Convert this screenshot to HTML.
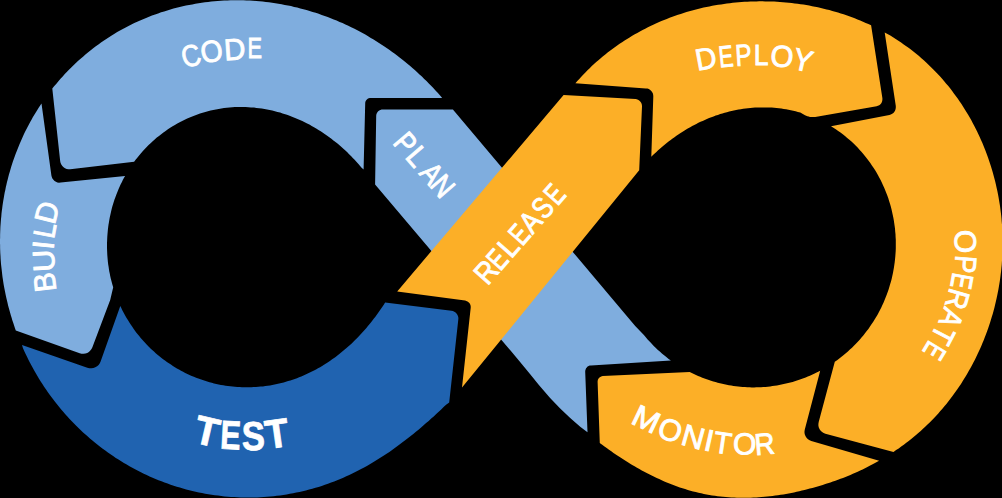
<!DOCTYPE html>
<html><head><meta charset="utf-8"><title>DevOps loop</title>
<style>
html,body{margin:0;padding:0;background:#000;}
body{width:1002px;height:498px;overflow:hidden;font-family:"Liberation Sans",sans-serif;}
svg{display:block;}
text{font-family:"Liberation Sans",sans-serif;fill:#fff;}
</style></head><body>
<svg width="1002" height="498" viewBox="0 0 1002 498">
<rect width="1002" height="498" fill="#000"/>
<path d="M376.2 116.0 L376.3 114.7 L376.7 113.5 L377.4 112.3 L378.2 111.3 L379.2 110.5 L380.4 109.9 L381.6 109.5 L382.9 109.4 L452.9 109.4 L572.8 251.9 L635.2 326.1 L643.9 335.0 L645.8 337.2 L647.6 339.4 L649.6 341.6 L651.5 343.6 L653.5 345.7 L655.6 347.7 L657.6 349.7 L659.8 351.6 L661.9 353.5 L664.1 355.3 L666.3 357.1 L668.6 358.9 L670.9 360.6 L590.9 365.4 L589.7 365.6 L588.6 366.0 L587.6 366.6 L586.8 367.4 L586.1 368.3 L585.6 369.4 L585.3 370.5 L585.2 371.7 L587.5 432.2 L580.2 426.7 L570.2 418.1 L560.2 408.6 L550.1 398.1 L538.9 385.0 L530.2 374.2 L520.1 362.1 L510.1 350.1 L501.5 340.0 L431.4 251.1 L375.1 184.6Z" fill="#7fadde"/>
<path d="M52.3 88.6 L54.3 86.1 L56.4 83.7 L58.4 81.2 L60.5 78.8 L62.7 76.4 L64.8 74.1 L67.0 71.8 L69.2 69.5 L71.5 67.2 L73.8 65.0 L76.1 62.8 L78.5 60.6 L80.9 58.5 L83.3 56.4 L85.7 54.3 L88.2 52.2 L90.7 50.2 L93.2 48.3 L95.8 46.3 L98.4 44.4 L101.0 42.6 L103.6 40.7 L106.3 38.9 L109.0 37.2 L111.7 35.5 L114.5 33.8 L117.2 32.1 L120.0 30.5 L122.8 29.0 L125.7 27.4 L128.5 26.0 L131.4 24.5 L134.3 23.1 L137.2 21.8 L140.1 20.4 L143.1 19.2 L146.1 17.9 L149.0 16.7 L152.0 15.6 L155.1 14.4 L158.1 13.4 L161.1 12.3 L164.2 11.4 L167.3 10.4 L170.4 9.5 L173.5 8.6 L176.6 7.8 L179.7 7.0 L182.8 6.3 L186.0 5.6 L189.1 5.0 L192.3 4.4 L195.4 3.8 L198.6 3.3 L201.8 2.8 L205.0 2.3 L208.2 1.9 L211.3 1.6 L214.5 1.3 L217.7 1.0 L220.9 0.8 L224.2 0.6 L227.4 0.4 L230.6 0.3 L233.8 0.3 L237.0 0.3 L240.2 0.3 L243.4 0.3 L246.6 0.5 L249.8 0.6 L253.0 0.8 L256.2 1.0 L259.4 1.3 L262.6 1.6 L265.8 1.9 L268.9 2.3 L272.1 2.8 L275.3 3.2 L278.4 3.7 L281.6 4.3 L284.7 4.9 L287.9 5.5 L291.0 6.1 L294.1 6.9 L297.2 7.6 L300.3 8.4 L303.4 9.2 L306.5 10.0 L309.6 10.9 L312.6 11.9 L315.7 12.8 L318.7 13.8 L321.7 14.9 L324.7 15.9 L327.7 17.1 L330.7 18.2 L333.7 19.4 L336.6 20.6 L339.6 21.9 L342.5 23.1 L345.4 24.5 L348.3 25.8 L351.2 27.2 L354.0 28.6 L356.9 30.1 L359.7 31.6 L362.5 33.1 L365.3 34.6 L368.1 36.2 L370.8 37.9 L373.6 39.5 L376.3 41.2 L379.0 42.9 L381.7 44.7 L384.4 46.4 L387.0 48.2 L389.6 50.1 L392.2 51.9 L394.8 53.8 L397.4 55.8 L399.9 57.7 L402.5 59.7 L405.0 61.7 L407.4 63.8 L409.9 65.8 L412.4 67.9 L414.8 70.1 L417.2 72.2 L419.5 74.4 L421.9 76.6 L424.2 78.9 L426.5 81.1 L428.8 83.4 L431.1 85.7 L433.3 88.1 L435.5 90.4 L437.7 92.8 L439.9 95.3 L442.0 97.7 L441.8 97.9 L370.9 97.9 L369.8 98.0 L368.7 98.3 L367.7 98.8 L366.9 99.5 L366.2 100.3 L365.6 101.3 L365.3 102.3 L365.2 103.4 L363.6 169.6 L361.6 167.7 L359.9 165.7 L358.2 163.7 L356.4 161.7 L354.6 159.8 L352.8 157.9 L351.0 156.0 L349.1 154.2 L347.3 152.3 L345.4 150.5 L343.4 148.8 L341.5 147.0 L339.5 145.3 L337.5 143.6 L335.5 142.0 L333.4 140.4 L331.4 138.8 L329.3 137.2 L327.2 135.7 L325.0 134.2 L322.9 132.7 L320.7 131.3 L318.5 129.9 L316.2 128.5 L314.0 127.2 L311.7 125.9 L309.4 124.6 L307.1 123.4 L304.7 122.2 L302.3 121.1 L299.9 120.0 L297.5 118.9 L295.1 117.9 L292.6 116.9 L290.2 116.0 L287.7 115.1 L285.2 114.2 L282.6 113.4 L280.1 112.6 L277.5 111.9 L274.9 111.2 L272.3 110.6 L269.7 110.0 L267.1 109.5 L264.5 109.0 L261.8 108.6 L259.2 108.2 L256.5 107.9 L253.8 107.6 L251.1 107.4 L248.4 107.2 L245.7 107.1 L243.0 107.0 L240.3 107.0 L237.6 107.0 L234.9 107.1 L232.2 107.3 L229.4 107.5 L226.7 107.8 L224.0 108.1 L221.3 108.5 L218.6 108.9 L215.9 109.4 L213.2 109.9 L210.6 110.6 L207.9 111.2 L205.3 111.9 L202.6 112.7 L200.0 113.6 L197.4 114.5 L194.8 115.4 L192.2 116.4 L189.7 117.5 L187.2 118.6 L184.7 119.7 L182.2 121.0 L179.7 122.2 L177.3 123.6 L174.9 124.9 L172.6 126.3 L170.2 127.8 L167.9 129.3 L165.6 130.9 L163.4 132.5 L161.2 134.2 L159.0 135.9 L156.8 137.6 L154.7 139.4 L152.7 141.3 L150.6 143.2 L148.6 145.1 L146.7 147.0 L144.8 149.0 L142.9 151.1 L141.0 153.2 L139.3 155.3 L137.5 157.4 L135.8 159.6 L134.1 161.8 L70.2 169.2 L68.4 169.2 L66.7 168.9 L65.0 168.2 L63.6 167.3 L62.3 166.0 L61.3 164.6 L60.6 162.9 L60.2 161.2Z" fill="#7fadde"/>
<path d="M41.5 103.5 L40.0 105.8 L38.5 108.1 L37.0 110.4 L35.6 112.7 L34.2 115.0 L32.8 117.3 L31.5 119.7 L30.2 122.0 L28.9 124.4 L27.7 126.8 L26.4 129.2 L25.2 131.6 L24.0 134.1 L22.9 136.5 L21.8 139.0 L20.7 141.4 L19.6 143.9 L18.6 146.4 L17.6 148.9 L16.6 151.4 L15.6 153.9 L14.7 156.4 L13.8 159.0 L12.9 161.5 L12.1 164.1 L11.3 166.6 L10.5 169.2 L9.8 171.7 L9.0 174.3 L8.3 176.9 L7.7 179.5 L7.0 182.1 L6.4 184.7 L5.8 187.3 L5.3 189.9 L4.7 192.5 L4.2 195.2 L3.8 197.8 L3.3 200.4 L2.9 203.0 L2.5 205.7 L2.2 208.3 L1.8 211.0 L1.5 213.6 L1.3 216.3 L1.0 218.9 L0.8 221.5 L0.6 224.2 L0.4 226.8 L0.3 229.5 L0.2 232.1 L0.1 234.8 L0.1 237.4 L0.0 240.1 L0.0 242.7 L0.1 245.4 L0.1 248.0 L0.2 250.7 L0.3 253.3 L0.5 256.0 L0.6 258.6 L0.8 261.2 L1.0 263.9 L1.3 266.5 L1.6 269.1 L1.9 271.7 L2.2 274.4 L2.5 277.0 L2.9 279.6 L3.3 282.2 L3.7 284.8 L4.2 287.4 L4.7 290.0 L5.2 292.6 L5.7 295.1 L6.3 297.7 L6.9 300.3 L7.5 302.8 L8.1 305.4 L8.8 307.9 L9.5 310.5 L10.2 313.0 L10.9 315.5 L11.7 318.0 L12.4 320.6 L13.3 323.1 L14.1 325.6 L14.9 328.0 L15.8 330.5 L79.7 353.2 L81.5 353.7 L83.5 353.8 L85.4 353.5 L87.2 352.9 L88.9 351.9 L90.3 350.6 L91.5 349.1 L92.4 347.3 L110.2 300.0 L113.2 287.3 L112.5 285.0 L111.9 282.8 L111.3 280.5 L110.7 278.2 L110.2 276.0 L109.8 273.7 L109.3 271.4 L108.9 269.1 L108.6 266.8 L108.2 264.4 L107.9 262.1 L107.7 259.8 L107.5 257.5 L107.3 255.1 L107.2 252.8 L107.1 250.4 L107.0 248.1 L107.0 245.8 L107.0 243.4 L107.1 241.1 L107.2 238.7 L107.3 236.4 L107.5 234.0 L107.7 231.7 L107.9 229.4 L108.2 227.0 L108.5 224.7 L108.9 222.4 L109.3 220.1 L109.7 217.8 L110.2 215.5 L110.7 213.2 L111.2 210.9 L111.8 208.6 L112.4 206.3 L113.1 204.1 L113.8 201.8 L114.5 199.6 L115.3 197.4 L116.1 195.2 L117.0 193.0 L117.9 190.8 L118.8 188.6 L119.7 186.5 L120.7 184.3 L121.8 182.2 L122.8 180.1 L123.9 178.0 L125.1 175.9 L60.7 182.6 L59.0 182.7 L57.4 182.4 L55.9 181.8 L54.6 180.9 L53.4 179.8 L52.4 178.4 L51.8 176.9 L51.4 175.4Z" fill="#7fadde"/>
<path d="M22.0 345.0 L87.3 367.8 L89.3 368.2 L91.4 368.3 L93.4 368.0 L95.3 367.3 L97.1 366.2 L98.6 364.9 L99.8 363.2 L100.7 361.3 L120.3 305.9 L121.3 308.1 L122.3 310.2 L123.4 312.3 L124.6 314.4 L125.7 316.5 L126.9 318.6 L128.2 320.6 L129.4 322.6 L130.7 324.6 L132.1 326.6 L133.4 328.6 L134.8 330.5 L136.2 332.4 L137.7 334.3 L139.2 336.1 L140.7 338.0 L142.3 339.8 L143.9 341.5 L145.5 343.3 L147.1 345.0 L148.8 346.7 L150.5 348.4 L152.2 350.0 L154.0 351.6 L155.7 353.2 L157.5 354.7 L159.4 356.2 L161.2 357.7 L163.1 359.2 L165.0 360.6 L166.9 362.0 L168.9 363.3 L170.9 364.6 L172.9 365.9 L174.9 367.2 L176.9 368.4 L179.0 369.6 L181.0 370.7 L183.1 371.8 L185.2 372.9 L187.4 373.9 L189.5 374.9 L191.7 375.9 L193.9 376.8 L196.1 377.7 L198.3 378.5 L200.5 379.3 L202.7 380.1 L205.0 380.8 L207.2 381.5 L209.5 382.2 L211.8 382.8 L214.0 383.4 L216.3 383.9 L218.6 384.4 L221.0 384.9 L223.3 385.3 L225.6 385.7 L227.9 386.0 L230.3 386.3 L232.6 386.6 L234.9 386.8 L237.3 387.0 L239.6 387.1 L242.0 387.2 L244.3 387.3 L246.7 387.3 L249.0 387.3 L251.4 387.2 L253.7 387.1 L256.0 387.0 L258.4 386.8 L260.7 386.6 L263.0 386.4 L265.4 386.1 L267.7 385.8 L270.0 385.4 L272.3 385.0 L274.6 384.6 L276.9 384.1 L279.1 383.6 L281.4 383.0 L283.7 382.4 L285.9 381.8 L288.1 381.1 L290.4 380.5 L292.6 379.7 L294.8 379.0 L297.0 378.2 L299.1 377.3 L301.3 376.5 L303.5 375.5 L305.6 374.6 L307.7 373.6 L309.8 372.6 L311.9 371.6 L314.0 370.5 L316.0 369.5 L318.0 368.3 L320.1 367.2 L322.1 366.0 L324.0 364.8 L326.0 363.5 L328.0 362.3 L329.9 361.0 L331.8 359.6 L333.7 358.3 L335.6 356.9 L337.4 355.5 L339.3 354.1 L341.1 352.6 L342.9 351.1 L344.7 349.6 L346.5 348.1 L348.2 346.6 L350.0 345.0 L351.7 343.4 L353.4 341.8 L355.1 340.1 L356.7 338.4 L358.4 336.8 L360.0 335.0 L361.6 333.3 L363.2 331.6 L364.8 329.8 L366.4 328.0 L367.9 326.1 L369.4 324.3 L370.9 322.4 L372.4 320.5 L373.9 318.6 L375.4 316.7 L376.8 314.8 L378.2 312.8 L379.6 310.8 L381.0 308.8 L382.4 306.7 L383.8 304.7 L385.1 302.6 L451.4 310.7 L452.9 311.1 L454.3 311.7 L455.6 312.6 L456.7 313.7 L457.5 315.0 L458.1 316.5 L458.4 318.0 L458.3 319.5 L449.2 402.6 L446.1 404.7 L443.6 407.1 L441.2 409.4 L438.7 411.8 L436.2 414.1 L433.7 416.4 L431.2 418.6 L428.7 420.9 L426.1 423.1 L423.6 425.3 L421.1 427.5 L418.5 429.7 L415.9 431.8 L413.3 433.9 L410.7 436.0 L408.1 438.1 L405.5 440.1 L402.8 442.1 L400.2 444.1 L397.5 446.1 L394.8 448.1 L392.1 450.0 L389.4 451.9 L386.6 453.7 L383.9 455.5 L381.1 457.3 L378.3 459.1 L375.5 460.8 L372.7 462.6 L369.8 464.2 L366.9 465.9 L364.1 467.5 L361.1 469.0 L358.2 470.6 L355.3 472.1 L352.3 473.5 L349.3 474.9 L346.3 476.3 L343.3 477.7 L340.3 479.0 L337.2 480.2 L334.2 481.4 L331.1 482.6 L328.0 483.7 L324.9 484.8 L321.7 485.9 L318.6 486.9 L315.5 487.8 L312.3 488.7 L309.1 489.6 L305.9 490.4 L302.7 491.2 L299.5 491.9 L296.3 492.6 L293.1 493.3 L289.8 493.8 L286.6 494.4 L283.3 494.9 L280.1 495.4 L276.8 495.8 L273.6 496.2 L270.3 496.5 L267.0 496.8 L263.8 497.0 L260.5 497.2 L257.2 497.4 L253.9 497.5 L250.7 497.5 L247.4 497.5 L244.1 497.5 L240.8 497.4 L237.6 497.3 L234.3 497.1 L231.1 496.9 L227.8 496.7 L224.5 496.4 L221.3 496.0 L218.1 495.6 L214.8 495.2 L211.6 494.7 L208.4 494.2 L205.2 493.7 L202.0 493.0 L198.8 492.4 L195.6 491.7 L192.4 491.0 L189.3 490.2 L186.2 489.4 L183.0 488.5 L179.9 487.6 L176.8 486.7 L173.7 485.7 L170.6 484.7 L167.6 483.6 L164.5 482.5 L161.5 481.3 L158.5 480.2 L155.5 478.9 L152.6 477.7 L149.6 476.4 L146.7 475.0 L143.8 473.7 L140.9 472.2 L138.0 470.8 L135.1 469.3 L132.3 467.8 L129.5 466.2 L126.7 464.6 L123.9 463.0 L121.2 461.3 L118.5 459.6 L115.8 457.9 L113.1 456.1 L110.5 454.3 L107.9 452.5 L105.3 450.6 L102.7 448.7 L100.1 446.8 L97.6 444.8 L95.1 442.8 L92.7 440.8 L90.2 438.7 L87.8 436.6 L85.5 434.5 L83.1 432.4 L80.8 430.2 L78.5 428.0 L76.2 425.8 L74.0 423.5 L71.8 421.2 L69.6 418.9 L67.4 416.6 L65.3 414.2 L63.2 411.8 L61.2 409.4 L59.2 407.0 L57.2 404.5 L55.2 402.0 L53.3 399.5 L51.4 397.0 L49.5 394.4 L47.7 391.9 L45.9 389.3 L44.1 386.7 L42.4 384.0 L40.7 381.4 L39.0 378.7 L37.4 376.0 L35.8 373.3 L34.2 370.5 L32.7 367.8 L31.2 365.0 L29.7 362.2 L28.3 359.4 L26.9 356.6 L25.5 353.8 L24.2 350.9 L22.9 348.0Z" fill="#2063b0"/>
<path d="M397.2 291.4 L563.6 95.1 L635.4 99.1 L636.7 99.3 L638.0 99.8 L639.2 100.5 L640.2 101.4 L641.0 102.5 L641.6 103.7 L641.9 105.0 L642.0 106.4 L639.2 170.3 L462.0 387.6 L470.7 307.8 L470.7 306.5 L470.5 305.3 L470.0 304.1 L469.4 303.1 L468.5 302.2 L467.5 301.5 L466.3 300.9 L465.1 300.6Z" fill="#fcaf27"/>
<path d="M575.4 83.3 L577.3 81.1 L579.3 78.9 L581.3 76.7 L583.4 74.5 L585.4 72.4 L587.5 70.3 L589.7 68.2 L591.8 66.1 L594.0 64.1 L596.2 62.1 L598.4 60.2 L600.7 58.2 L603.0 56.3 L605.3 54.4 L607.6 52.6 L610.0 50.8 L612.4 49.0 L614.8 47.2 L617.2 45.5 L619.6 43.8 L622.1 42.2 L624.6 40.5 L627.1 38.9 L629.6 37.4 L632.2 35.8 L634.8 34.3 L637.3 32.9 L639.9 31.4 L642.6 30.0 L645.2 28.7 L647.9 27.3 L650.5 26.0 L653.2 24.8 L655.9 23.5 L658.6 22.3 L661.4 21.1 L664.1 20.0 L666.8 18.9 L669.6 17.8 L672.4 16.8 L675.2 15.8 L678.0 14.8 L680.8 13.9 L683.6 13.0 L686.5 12.1 L689.3 11.3 L692.2 10.5 L695.0 9.7 L697.9 9.0 L700.8 8.3 L703.6 7.6 L706.5 7.0 L709.4 6.4 L712.3 5.8 L715.2 5.3 L718.2 4.8 L721.1 4.4 L724.0 3.9 L726.9 3.5 L729.9 3.2 L732.8 2.8 L735.7 2.5 L738.7 2.3 L741.6 2.0 L744.6 1.8 L747.5 1.7 L750.5 1.5 L753.4 1.4 L756.4 1.4 L759.3 1.3 L762.3 1.3 L765.2 1.4 L768.2 1.4 L771.1 1.5 L774.1 1.6 L777.0 1.8 L779.9 2.0 L782.9 2.2 L785.8 2.5 L788.8 2.7 L791.7 3.1 L794.6 3.4 L797.6 3.8 L800.5 4.2 L803.4 4.6 L806.3 5.1 L809.2 5.6 L812.1 6.2 L815.0 6.7 L817.9 7.3 L820.8 8.0 L823.7 8.7 L826.6 9.4 L829.4 10.1 L832.3 10.9 L835.1 11.7 L838.0 12.5 L840.8 13.4 L843.6 14.3 L846.4 15.3 L849.2 16.3 L852.0 17.3 L854.7 18.3 L857.5 19.4 L860.2 20.5 L863.0 21.7 L865.7 22.9 L868.4 24.1 L871.1 25.3 L882.4 98.2 L882.4 99.6 L882.2 100.9 L881.8 102.2 L881.1 103.4 L880.2 104.4 L879.2 105.2 L877.9 105.8 L876.6 106.2 L815.2 116.9 L813.9 117.0 L812.6 117.1 L811.2 117.0 L810.0 116.9 L808.7 116.6 L807.4 116.2 L806.2 115.8 L805.0 115.2 L800.3 112.6 L797.9 111.9 L795.6 111.3 L793.2 110.7 L790.9 110.2 L788.5 109.7 L786.1 109.3 L783.7 108.9 L781.4 108.6 L779.0 108.3 L776.6 108.0 L774.2 107.8 L771.8 107.6 L769.4 107.5 L767.0 107.4 L764.6 107.4 L762.2 107.4 L759.8 107.4 L757.4 107.5 L755.0 107.6 L752.6 107.8 L750.2 108.0 L747.9 108.2 L745.5 108.5 L743.2 108.8 L740.8 109.2 L738.5 109.6 L736.1 110.0 L733.8 110.5 L731.5 111.0 L729.2 111.6 L726.9 112.2 L724.7 112.8 L722.4 113.5 L720.2 114.1 L717.9 114.9 L715.7 115.6 L713.5 116.4 L711.3 117.2 L709.1 118.1 L706.9 119.0 L704.8 119.9 L702.7 120.9 L700.5 121.8 L698.4 122.8 L696.3 123.9 L694.3 125.0 L692.2 126.1 L690.2 127.2 L688.2 128.3 L686.1 129.5 L684.2 130.7 L682.2 132.0 L680.2 133.2 L678.3 134.5 L676.4 135.8 L674.5 137.2 L672.6 138.5 L670.7 139.9 L668.9 141.3 L667.0 142.8 L665.2 144.2 L663.4 145.7 L661.6 147.2 L659.9 148.8 L658.1 150.3 L656.4 151.9 L654.7 153.5 L653.0 155.1 L651.3 156.8 L653.3 96.6 L653.2 95.1 L652.9 93.6 L652.2 92.2 L651.3 91.0 L650.2 89.9 L648.9 89.1 L647.4 88.6 L645.9 88.4Z" fill="#fcaf27"/>
<path d="M884.7 32.4 L887.5 34.0 L890.3 35.6 L893.0 37.3 L895.7 39.0 L898.4 40.7 L901.1 42.5 L903.7 44.4 L906.3 46.2 L908.9 48.1 L911.5 50.1 L914.0 52.0 L916.5 54.1 L919.0 56.1 L921.4 58.2 L923.8 60.3 L926.2 62.5 L928.5 64.7 L930.8 66.9 L933.1 69.2 L935.3 71.5 L937.5 73.8 L939.7 76.1 L941.9 78.5 L944.0 80.9 L946.0 83.4 L948.1 85.8 L950.1 88.3 L952.0 90.8 L953.9 93.4 L955.8 95.9 L957.7 98.5 L959.5 101.2 L961.3 103.8 L963.0 106.5 L964.7 109.2 L966.4 111.9 L968.0 114.6 L969.6 117.3 L971.2 120.1 L972.7 122.9 L974.2 125.7 L975.6 128.5 L977.0 131.3 L978.4 134.2 L979.7 137.1 L981.0 139.9 L982.3 142.8 L983.5 145.8 L984.7 148.7 L985.8 151.6 L986.9 154.6 L988.0 157.5 L989.0 160.5 L990.0 163.5 L991.0 166.5 L991.9 169.5 L992.8 172.5 L993.6 175.5 L994.4 178.5 L995.2 181.6 L995.9 184.6 L996.6 187.7 L997.3 190.7 L997.9 193.8 L998.5 196.9 L999.0 200.0 L999.5 203.0 L1000.0 206.1 L1000.4 209.2 L1000.8 212.3 L1001.2 215.4 L1001.5 218.5 L1001.7 221.6 L1002.0 224.7 L1002.2 227.8 L1002.4 230.9 L1002.5 234.0 L1002.6 237.1 L1002.6 240.2 L1002.6 243.4 L1002.6 246.5 L1002.5 249.6 L1002.4 252.7 L1002.3 255.8 L1002.1 258.9 L1001.9 261.9 L1001.7 265.0 L1001.4 268.1 L1001.1 271.2 L1000.7 274.3 L1000.3 277.4 L999.9 280.4 L999.4 283.5 L998.9 286.5 L998.4 289.6 L997.8 292.6 L997.2 295.6 L996.5 298.7 L995.8 301.7 L995.1 304.7 L994.4 307.7 L993.6 310.7 L992.8 313.7 L991.9 316.6 L991.0 319.6 L990.1 322.5 L989.1 325.5 L988.1 328.4 L987.1 331.3 L986.0 334.2 L984.9 337.1 L983.8 340.0 L982.6 342.8 L981.4 345.7 L980.2 348.5 L978.9 351.3 L977.6 354.1 L976.2 356.9 L974.9 359.7 L973.4 362.5 L972.0 365.2 L970.5 367.9 L969.0 370.6 L967.5 373.3 L965.9 376.0 L964.3 378.6 L962.6 381.2 L961.0 383.9 L959.2 386.4 L957.5 389.0 L955.7 391.5 L953.9 394.1 L952.1 396.6 L950.2 399.0 L948.3 401.5 L946.4 403.9 L944.4 406.3 L942.4 408.7 L940.3 411.0 L938.3 413.4 L936.2 415.7 L934.1 417.9 L931.9 420.2 L929.7 422.4 L927.5 424.6 L925.2 426.7 L923.0 428.8 L920.7 430.9 L918.3 433.0 L916.0 435.0 L913.6 437.0 L911.2 439.0 L908.7 440.9 L906.3 442.8 L903.8 444.7 L901.2 446.5 L898.7 448.4 L896.1 450.1 L893.5 451.9 L825.4 433.7 L823.6 433.0 L822.1 432.0 L820.7 430.7 L819.6 429.2 L818.8 427.5 L818.4 425.7 L818.4 423.9 L818.7 422.0 L834.8 361.8 L837.1 360.2 L839.3 358.6 L841.5 356.8 L843.7 355.1 L845.8 353.3 L847.9 351.5 L849.9 349.6 L852.0 347.7 L853.9 345.8 L855.9 343.8 L857.8 341.8 L859.7 339.7 L861.5 337.6 L863.3 335.5 L865.0 333.3 L866.7 331.1 L868.4 328.9 L870.0 326.6 L871.5 324.3 L873.1 322.0 L874.6 319.6 L876.0 317.3 L877.4 314.9 L878.7 312.4 L880.0 309.9 L881.3 307.5 L882.4 304.9 L883.6 302.4 L884.7 299.8 L885.7 297.3 L886.7 294.7 L887.7 292.0 L888.6 289.4 L889.4 286.7 L890.2 284.1 L891.0 281.4 L891.7 278.7 L892.3 275.9 L892.9 273.2 L893.4 270.5 L893.9 267.7 L894.3 265.0 L894.7 262.2 L895.0 259.4 L895.3 256.6 L895.5 253.8 L895.7 251.0 L895.8 248.2 L895.8 245.4 L895.8 242.6 L895.8 239.8 L895.6 237.0 L895.5 234.2 L895.2 231.4 L895.0 228.6 L894.6 225.8 L894.2 223.0 L893.8 220.2 L893.3 217.4 L892.7 214.7 L892.1 211.9 L891.5 209.2 L890.8 206.4 L890.0 203.7 L889.1 201.0 L888.3 198.3 L887.3 195.6 L886.3 193.0 L885.3 190.4 L884.2 187.7 L883.0 185.2 L881.8 182.6 L880.6 180.0 L879.2 177.5 L877.9 175.0 L876.5 172.6 L875.0 170.1 L873.5 167.7 L871.9 165.4 L870.3 163.0 L868.6 160.7 L866.9 158.4 L865.1 156.2 L863.3 154.0 L861.4 151.8 L859.5 149.7 L857.6 147.6 L855.6 145.6 L853.6 143.6 L851.5 141.6 L849.4 139.7 L847.2 137.9 L845.0 136.1 L842.8 134.3 L840.5 132.6 L838.2 130.9 L835.8 129.3 L833.4 127.7 L831.0 126.2 L889.4 115.0 L890.8 114.5 L892.2 113.8 L893.4 112.9 L894.4 111.7 L895.1 110.4 L895.6 108.9 L895.8 107.4 L895.8 105.9Z" fill="#fcaf27"/>
<path d="M597.6 381.8 L597.7 380.8 L597.9 379.7 L598.4 378.8 L599.0 377.9 L599.8 377.2 L600.8 376.7 L601.8 376.3 L602.8 376.1 L689.7 372.0 L691.8 373.1 L693.9 374.1 L696.0 375.0 L698.1 376.0 L700.2 376.8 L702.3 377.7 L704.5 378.5 L706.7 379.3 L708.9 380.1 L711.0 380.8 L713.3 381.5 L715.5 382.1 L717.7 382.7 L719.9 383.3 L722.2 383.8 L724.4 384.3 L726.7 384.8 L728.9 385.2 L731.2 385.6 L733.5 385.9 L735.8 386.2 L738.1 386.5 L740.3 386.7 L742.6 386.9 L744.9 387.1 L747.2 387.2 L749.5 387.3 L751.8 387.4 L754.1 387.4 L756.4 387.3 L758.7 387.3 L761.0 387.2 L763.3 387.0 L765.6 386.9 L767.9 386.7 L770.2 386.4 L772.4 386.1 L774.7 385.8 L777.0 385.4 L779.2 385.0 L781.5 384.6 L783.7 384.1 L786.0 383.6 L788.2 383.1 L790.4 382.5 L792.6 381.9 L794.8 381.3 L797.0 380.6 L799.2 379.8 L801.4 379.1 L803.5 378.3 L805.7 377.5 L807.8 376.6 L809.9 375.7 L812.0 374.8 L814.1 373.8 L816.1 372.8 L818.2 371.8 L820.2 370.8 L804.8 429.4 L804.5 431.2 L804.5 433.0 L804.9 434.8 L805.7 436.5 L806.7 438.0 L808.0 439.2 L809.6 440.2 L811.3 440.9 L879.1 460.7 L876.8 462.0 L874.5 463.3 L872.1 464.6 L869.7 465.8 L867.4 467.0 L865.0 468.2 L862.6 469.4 L860.2 470.5 L857.7 471.7 L855.3 472.8 L852.9 473.8 L850.4 474.9 L847.9 475.9 L845.5 476.9 L843.0 477.9 L840.5 478.8 L838.0 479.8 L835.4 480.7 L832.9 481.6 L830.4 482.5 L827.8 483.3 L825.3 484.1 L822.7 484.9 L820.1 485.7 L817.6 486.5 L815.0 487.2 L812.4 487.9 L809.8 488.6 L807.2 489.3 L804.5 490.0 L801.9 490.6 L799.3 491.2 L796.6 491.8 L794.0 492.4 L791.3 492.9 L788.7 493.4 L786.0 493.9 L783.3 494.4 L780.6 494.8 L777.9 495.2 L775.2 495.6 L772.5 495.9 L769.8 496.3 L767.1 496.6 L764.4 496.8 L761.6 497.0 L758.9 497.2 L756.2 497.4 L753.4 497.6 L750.7 497.7 L747.9 497.7 L745.2 497.8 L742.4 497.8 L739.6 497.7 L736.9 497.7 L734.1 497.6 L731.4 497.4 L728.6 497.2 L725.9 497.0 L723.1 496.8 L720.4 496.5 L717.6 496.2 L714.9 495.8 L712.1 495.4 L709.4 494.9 L706.6 494.4 L703.9 493.9 L701.2 493.3 L698.5 492.7 L695.8 492.1 L693.1 491.4 L690.4 490.7 L687.8 489.9 L685.1 489.1 L682.5 488.2 L679.8 487.4 L677.2 486.5 L674.6 485.5 L672.0 484.5 L669.4 483.5 L666.8 482.5 L664.3 481.4 L661.7 480.3 L659.2 479.1 L656.7 478.0 L654.2 476.8 L651.7 475.6 L649.2 474.3 L646.7 473.0 L644.3 471.7 L641.8 470.4 L639.4 469.1 L637.0 467.7 L634.6 466.3 L632.2 464.9 L629.8 463.5 L627.5 462.0 L625.1 460.5 L622.8 459.0 L620.5 457.5 L618.1 456.0 L615.8 454.4 L613.5 452.9 L611.3 451.3 L609.0 449.7 L606.7 448.1 L604.5 446.5 L602.2 444.8 L600.0 443.2 L599.8 443.1Z" fill="#fcaf27"/>
<g>
<text font-size="40.5" font-weight="bold" stroke="#fff" stroke-width="0.80" transform="translate(207.1,431.4) rotate(13.0) scale(0.973,1) translate(-12.37,13.93)">T</text>
<text font-size="40.5" font-weight="bold" stroke="#fff" stroke-width="0.80" transform="translate(231.0,435.1) rotate(3.0) scale(0.753,1) translate(-14.07,13.93)">E</text>
<text font-size="40.5" font-weight="bold" stroke="#fff" stroke-width="0.80" transform="translate(253.1,436.1) rotate(-1.0) scale(0.857,1) translate(-13.30,13.93)">S</text>
<text font-size="40.5" font-weight="bold" stroke="#fff" stroke-width="0.80" transform="translate(276.8,433.6) rotate(-8.0) scale(0.947,1) translate(-12.37,13.93)">T</text>
<text font-size="30.3" stroke="#fff" stroke-width="0.90" transform="translate(191.1,55.8) rotate(-15.0) scale(0.865,1) translate(-11.14,10.42)">C</text>
<text font-size="30.3" stroke="#fff" stroke-width="0.90" transform="translate(211.5,51.3) rotate(-10.0) scale(0.937,1) translate(-11.77,10.42)">O</text>
<text font-size="30.3" stroke="#fff" stroke-width="0.90" transform="translate(235.2,49.4) rotate(-4.0) scale(0.976,1) translate(-11.45,10.42)">D</text>
<text font-size="30.3" stroke="#fff" stroke-width="0.90" transform="translate(255.1,48.0) rotate(0.0) scale(0.719,1) translate(-10.70,10.42)">E</text>
<text font-size="30.3" stroke="#fff" stroke-width="0.90" transform="translate(706.4,58.6) rotate(-10.6) scale(0.959,1) translate(-11.45,10.42)">D</text>
<text font-size="30.3" stroke="#fff" stroke-width="0.90" transform="translate(726.3,56.4) rotate(-5.7) scale(0.712,1) translate(-10.70,10.42)">E</text>
<text font-size="30.3" stroke="#fff" stroke-width="0.90" transform="translate(743.8,55.1) rotate(-3.7) scale(0.806,1) translate(-10.54,10.42)">P</text>
<text font-size="30.3" stroke="#fff" stroke-width="0.90" transform="translate(761.7,54.7) rotate(0.0) scale(0.876,1) translate(-9.17,10.42)">L</text>
<text font-size="30.3" stroke="#fff" stroke-width="0.90" transform="translate(782.1,56.4) rotate(5.0) scale(0.971,1) translate(-11.77,10.42)">O</text>
<text font-size="30.3" stroke="#fff" stroke-width="0.90" transform="translate(803.0,60.2) rotate(13.0) scale(0.954,1) translate(-10.11,10.42)">Y</text>
<text font-size="30.3" stroke="#fff" stroke-width="0.90" transform="translate(965.3,241.6) rotate(88.0) scale(0.991,1) translate(-11.77,10.42)">O</text>
<text font-size="30.3" stroke="#fff" stroke-width="0.90" transform="translate(965.3,264.7) rotate(94.5) scale(0.869,1) translate(-10.54,10.42)">P</text>
<text font-size="30.3" stroke="#fff" stroke-width="0.90" transform="translate(961.7,281.6) rotate(100.5) scale(0.749,1) translate(-10.70,10.42)">E</text>
<text font-size="30.3" stroke="#fff" stroke-width="0.90" transform="translate(957.2,299.6) rotate(106.0) scale(0.890,1) translate(-11.47,10.42)">R</text>
<text font-size="30.3" stroke="#fff" stroke-width="0.90" transform="translate(951.3,318.0) rotate(111.0) scale(0.871,1) translate(-10.11,10.42)">A</text>
<text font-size="30.3" stroke="#fff" stroke-width="0.90" transform="translate(942.9,334.9) rotate(117.5) scale(0.898,1) translate(-9.24,10.42)">T</text>
<text font-size="30.3" stroke="#fff" stroke-width="0.90" transform="translate(934.3,351.1) rotate(121.0) scale(0.706,1) translate(-10.70,10.42)">E</text>
<text font-size="30.3" stroke="#fff" stroke-width="0.90" transform="translate(646.3,419.0) rotate(25.5) scale(1.061,1) translate(-12.62,10.42)">M</text>
<text font-size="30.3" stroke="#fff" stroke-width="0.90" transform="translate(670.2,430.1) rotate(20.0) scale(0.991,1) translate(-11.77,10.42)">O</text>
<text font-size="30.3" stroke="#fff" stroke-width="0.90" transform="translate(693.4,437.0) rotate(15.7) scale(1.021,1) translate(-10.95,10.42)">N</text>
<text font-size="30.3" stroke="#fff" stroke-width="0.90" transform="translate(709.3,440.5) rotate(12.5) scale(1.018,1) translate(-4.21,10.42)">I</text>
<text font-size="30.3" stroke="#fff" stroke-width="0.90" transform="translate(722.6,442.9) rotate(8.5) scale(0.956,1) translate(-9.24,10.42)">T</text>
<text font-size="30.3" stroke="#fff" stroke-width="0.90" transform="translate(744.7,443.9) rotate(3.0) scale(0.991,1) translate(-11.77,10.42)">O</text>
<text font-size="30.3" stroke="#fff" stroke-width="0.90" transform="translate(765.2,443.9) rotate(-5.0) scale(0.918,1) translate(-11.47,10.42)">R</text>
<text font-size="30.3" stroke="#fff" stroke-width="0.90" transform="translate(44.7,281.8) rotate(-96.5) scale(0.962,1) translate(-10.54,10.42)">B</text>
<text font-size="30.3" stroke="#fff" stroke-width="0.90" transform="translate(43.7,260.8) rotate(-93.0) scale(1.005,1) translate(-10.94,10.42)">U</text>
<text font-size="30.3" stroke="#fff" stroke-width="0.90" transform="translate(43.4,245.0) rotate(-84.0) scale(1.018,1) translate(-4.21,10.42)">I</text>
<text font-size="30.3" stroke="#fff" stroke-width="0.90" transform="translate(45.0,229.4) rotate(-79.5) scale(0.898,1) translate(-9.17,10.42)">L</text>
<text font-size="30.3" stroke="#fff" stroke-width="0.90" transform="translate(47.2,211.8) rotate(-76.0) scale(0.976,1) translate(-11.45,10.42)">D</text>
<text font-size="30.3" stroke="#fff" stroke-width="0.90" transform="translate(405.8,143.1) rotate(49.3) scale(0.844,1) translate(-10.54,10.42)">P</text>
<text font-size="30.3" stroke="#fff" stroke-width="0.90" transform="translate(417.8,157.0) rotate(49.3) scale(0.935,1) translate(-9.17,10.42)">L</text>
<text font-size="30.3" stroke="#fff" stroke-width="0.90" transform="translate(431.8,173.3) rotate(49.3) scale(0.846,1) translate(-10.11,10.42)">A</text>
<text font-size="30.3" stroke="#fff" stroke-width="0.90" transform="translate(442.7,186.0) rotate(49.3) scale(0.856,1) translate(-10.95,10.42)">N</text>
<text font-size="30.3" stroke="#fff" stroke-width="0.90" transform="translate(486.5,271.7) rotate(-48.8) scale(0.902,1) translate(-11.47,10.42)">R</text>
<text font-size="30.3" stroke="#fff" stroke-width="0.90" transform="translate(497.6,259.1) rotate(-48.8) scale(0.731,1) translate(-10.70,10.42)">E</text>
<text font-size="30.3" stroke="#fff" stroke-width="0.90" transform="translate(508.9,246.1) rotate(-48.8) scale(0.898,1) translate(-9.17,10.42)">L</text>
<text font-size="30.3" stroke="#fff" stroke-width="0.90" transform="translate(519.5,234.0) rotate(-48.8) scale(0.731,1) translate(-10.70,10.42)">E</text>
<text font-size="30.3" stroke="#fff" stroke-width="0.90" transform="translate(530.4,221.6) rotate(-48.8) scale(0.846,1) translate(-10.11,10.42)">A</text>
<text font-size="30.3" stroke="#fff" stroke-width="0.90" transform="translate(542.6,207.7) rotate(-48.8) scale(0.804,1) translate(-10.11,10.42)">S</text>
<text font-size="30.3" stroke="#fff" stroke-width="0.90" transform="translate(554.7,193.8) rotate(-48.8) scale(0.731,1) translate(-10.70,10.42)">E</text>
</g>

</svg>
</body></html>
